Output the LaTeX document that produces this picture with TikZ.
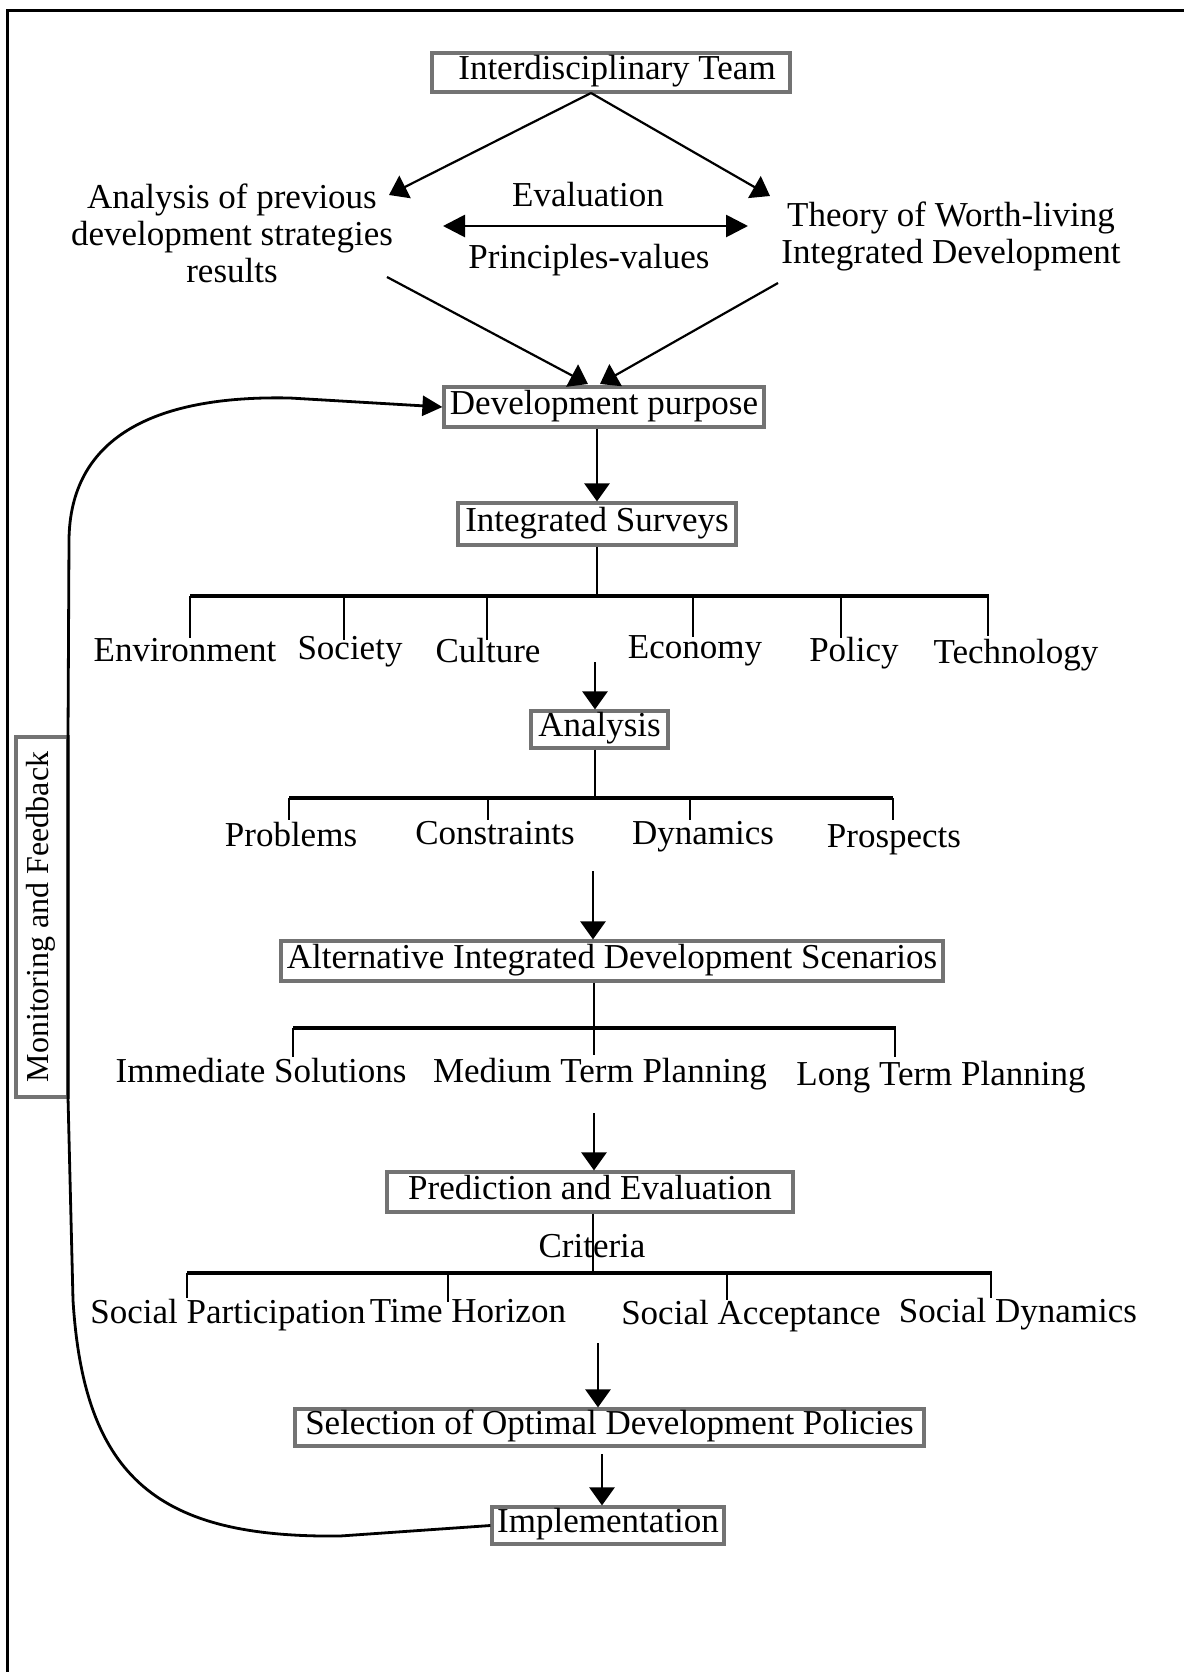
\documentclass[tikz,border=0pt]{standalone}
\usepackage{fontspec}
\setmainfont{Liberation Serif}
\usetikzlibrary{arrows.meta}
\begin{document}
\begin{tikzpicture}[x=0.5pt,y=-0.5pt,
  box/.style={draw=black!55, line width=1.6pt, fill=white, inner sep=0pt,
    text height=0.72em, text depth=0em, font=\fontsize{17.5}{21}\selectfont},
  lbl/.style={inner sep=0pt, text height=0.9em, text depth=0pt,
    font=\fontsize{17.5}{21}\selectfont},
  mlbl/.style={inner sep=0pt, align=center, font=\fontsize{17.5}{18.5}\selectfont},
  arr/.style={line width=1.3pt, -{Triangle[length=9pt,width=12.5pt]}},
  ln/.style={line width=1.2pt},
  bar/.style={line width=1.7pt},
]
\useasboundingbox (0,0) rectangle (1184,1672);
% frame
\draw[line width=1.5pt] (1190,10) -- (7,10) -- (7,1690);

% boxes
\node[box, minimum width=179pt, minimum height=19.5pt] (team) at (611,72.5) {\hspace{6pt}Interdisciplinary Team};
\node[box, minimum width=160pt, minimum height=20pt] (dev) at (604,407) {Development purpose};
\node[box, minimum width=139pt, minimum height=21pt] (surv) at (597,524) {Integrated Surveys};
\node[box, minimum width=68.5pt, minimum height=18.5pt] (anal) at (599.5,729.5) {Analysis};
\node[box, minimum width=331pt, minimum height=20pt] (alt) at (612,961) {Alternative Integrated Development Scenarios};
\node[box, minimum width=203pt, minimum height=20pt] (pred) at (590,1192) {Prediction and Evaluation};
\node[box, minimum width=314.5pt, minimum height=18.5pt] (sel) at (609.5,1427.5) {Selection of Optimal Development Policies};
\node[box, minimum width=116pt, minimum height=18.5pt] (impl) at (608,1525.5) {Implementation};
\node[box, rotate=90, minimum width=180pt, minimum height=26pt, text height=0.7em, text depth=0.1em, font=\fontsize{16}{19}\selectfont] (mon) at (42,917) {Monitoring and Feedback};

% top labels
\node[mlbl] (prev) at (232,233) {Analysis of previous\\development strategies\\results};
\node[mlbl] (theory) at (951,236) {Theory of Worth-living\\Integrated Development};
\node[lbl] (evl) at (588,197) {Evaluation};
\node[lbl] (pv) at (589,259) {Principles-values};

% row 1
\node[lbl] (env) at (185,652) {Environment};
\node[lbl] (soc) at (350,650) {Society};
\node[lbl] (cul) at (488,653) {Culture};
\node[lbl] (eco) at (695,649) {Economy};
\node[lbl] (pol) at (854,652) {Policy};
\node[lbl] (tec) at (1016,654) {Technology};
% row 2
\node[lbl] (prob) at (291,837) {Problems};
\node[lbl] (cons) at (495,835) {Constraints};
\node[lbl] (dyn) at (703,835) {Dynamics};
\node[lbl] (pros) at (894,838) {Prospects};
% row 3
\node[lbl] (imm) at (261,1073) {Immediate Solutions};
\node[lbl] (med) at (600,1073) {Medium Term Planning};
\node[lbl] (lon) at (941,1076) {Long Term Planning};
% criteria
\node[lbl] (crit) at (592,1248) {Criteria};
% row 4
\node[lbl] (sp) at (228,1314) {Social Participation};
\node[lbl] (th) at (468,1313) {Time Horizon};
\node[lbl] (sa) at (751,1315) {Social Acceptance};
\node[lbl] (sd) at (1018,1313) {Social Dynamics};

% coordinates
\coordinate (tA) at (591,93);
\coordinate (pL) at (389,195);
\coordinate (pR) at (770,196);
\coordinate (qL) at (387,277);
\coordinate (qR) at (778,283);
\coordinate (dL) at (588,384);
\coordinate (dR) at (600,384);
\coordinate (eL) at (443,226);
\coordinate (eR) at (748,226);

% top arrows
\draw[arr, line width=1.1pt] (tA) -- (pL);
\draw[arr, line width=1.1pt] (tA) -- (pR);
\draw[arr, line width=1.1pt] (qL) -- (dL);
\draw[arr, line width=1.1pt] (qR) -- (dR);
\draw[line width=1.4pt, {Triangle[length=11pt,width=11pt]}-{Triangle[length=11pt,width=11pt]}] (eL) -- (eR);

% main flow
\draw[arr] (dev.south -| surv.north) -- (surv.north);
\draw[ln] (surv.south) -- (597,596);
\draw[bar] (190,596) -- (989,596);
\foreach \x/\y in {190/638, 344/640, 487/640, 693/637, 841/638, 988/636}
  \draw[ln] (\x,596) -- (\x,\y);
\coordinate (a2) at (595,662);
\draw[arr] (a2) -- (a2 |- anal.north);

\coordinate (b2) at (595,798);
\draw[ln] (anal.south -| b2) -- (b2);
\draw[bar] (289,798) -- (893,798);
\foreach \x in {289, 488, 690, 893}
  \draw[ln] (\x,798) -- (\x,820);
\coordinate (a3) at (593,871);
\draw[arr] (a3) -- (a3 |- alt.north);

\coordinate (b3) at (594,1055);
\draw[ln] (alt.south -| b3) -- (b3);
\draw[bar] (293,1028) -- (896,1028);
\foreach \x in {293, 895}
  \draw[ln] (\x,1028) -- (\x,1057);
\coordinate (a4) at (594,1113);
\draw[arr] (a4) -- (a4 |- pred.north);

\coordinate (b4) at (593,1273);
\draw[ln] (pred.south -| b4) -- (b4);
\draw[bar] (187,1273) -- (992,1273);
\foreach \x/\y in {187/1298, 448/1302, 727/1300, 991/1298}
  \draw[ln] (\x,1273) -- (\x,\y);
\coordinate (a5) at (598,1343);
\draw[arr] (a5) -- (a5 |- sel.north);
\coordinate (a6) at (602,1454);
\draw[arr] (a6) -- (a6 |- impl.north);

% feedback loop
\draw[line width=1.4pt, -{Triangle[length=10pt,width=10pt]}]
  (impl.west) -- (340,1536) .. controls (160,1538) and (84,1480) .. (73,1300)
  -- (68,1097) -- (68,737) -- (69,540)
  .. controls (70,440) and (150,395) .. (290,398) -- (dev.west);
\end{tikzpicture}
\end{document}
